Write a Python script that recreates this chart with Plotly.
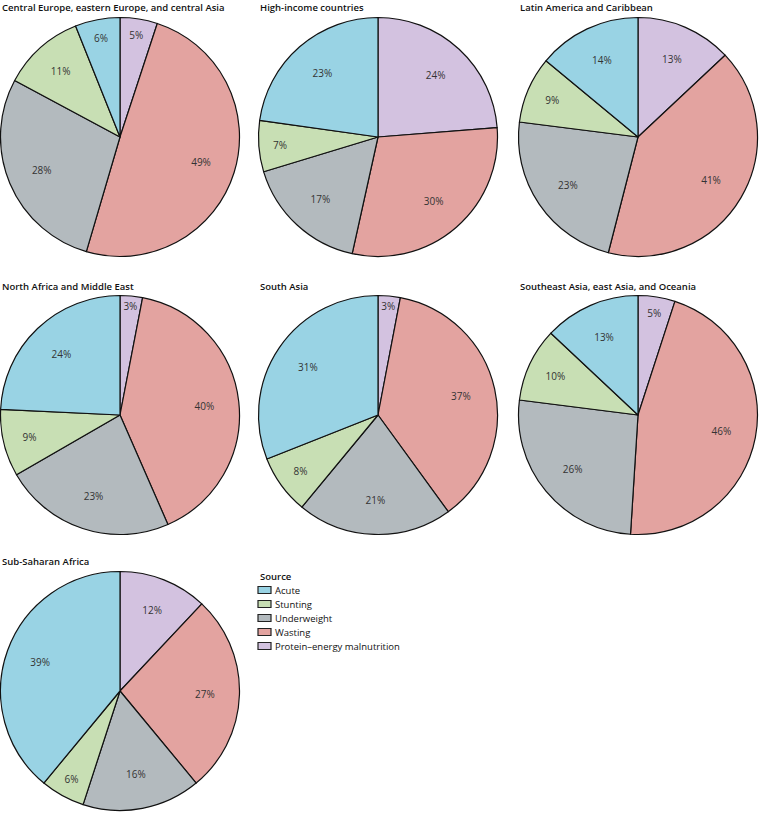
import plotly.graph_objects as go

sources = ["Acute", "Stunting", "Underweight", "Wasting", "Protein–energy malnutrition"]
colors = ["#99d3e4", "#c8dfb4", "#b3babe", "#e3a3a0", "#d3c2e0"]

regions = [
    "Central Europe, eastern Europe, and central Asia",
    "High-income countries",
    "Latin America and Caribbean",
    "North Africa and Middle East",
    "South Asia",
    "Southeast Asia, east Asia, and Oceania",
    "Sub-Saharan Africa",
]
# values in order: Acute, Stunting, Underweight, Wasting, Protein-energy malnutrition
central_europe = [6, 11, 28, 49, 5]
high_income = [23, 7, 17, 30, 24]
latin_america = [14, 9, 23, 41, 13]
north_africa = [24, 9, 23, 40, 3]
south_asia = [31, 8, 21, 37, 3]
southeast_asia = [13, 10, 26, 46, 5]
sub_saharan = [39, 6, 16, 27, 12]
values = [central_europe, high_income, latin_america, north_africa,
          south_asia, southeast_asia, sub_saharan]

W, H = 759, 813
centers_x = [120, 378, 638]
centers_y = [137, 415, 691]
R = 119.5
title_y = [8, 286, 561]
title_x = [0, 258, 518]

FONT = "Open Sans"

fig = go.Figure()
for i, (reg, vals) in enumerate(zip(regions, values)):
    r, c = divmod(i, 3)
    cx, cy = centers_x[c], centers_y[r]
    dom = dict(x=[max(0, (cx - R) / W), min(1, (cx + R) / W)],
               y=[max(0, 1 - (cy + R) / H), min(1, 1 - (cy - R) / H)])
    # filled slices
    fig.add_trace(go.Pie(
        labels=sources[::-1], values=vals[::-1], sort=False, direction="clockwise",
        rotation=0,
        marker=dict(colors=colors[::-1], line=dict(color="#111111", width=1.2)),
        textinfo="none", domain=dom,
        showlegend=False, hoverinfo="label+value",
    ))
    # transparent ring carrying the percentage labels
    fig.add_trace(go.Pie(
        labels=sources[::-1], values=vals[::-1], sort=False, direction="clockwise",
        rotation=0, hole=0.42,
        marker=dict(colors=["rgba(0,0,0,0)"] * 5, line=dict(width=0)),
        texttemplate="%{value}%", textposition="inside",
        insidetextorientation="horizontal",
        textfont=dict(family=FONT, size=10, color="#333333"),
        domain=dom, showlegend=False, hoverinfo="skip",
    ))
    fig.add_annotation(
        text=reg, x=title_x[c] / W, y=1 - title_y[r] / H, xref="paper", yref="paper",
        xanchor="left", yanchor="middle", showarrow=False,
        font=dict(family=FONT, size=9.5, color="#111111", weight=600),
    )

# manual legend
lx, ly0, step = 258, 576, 14
fig.add_annotation(text="Source", x=lx / W, y=1 - ly0 / H, xref="paper", yref="paper",
                   xanchor="left", yanchor="middle", showarrow=False,
                   font=dict(family=FONT, size=9.5, color="#111111", weight=600))
for k, (name, col) in enumerate(zip(sources, colors)):
    yc = ly0 + step * (k + 1)
    fig.add_shape(type="rect", xref="paper", yref="paper",
                  x0=lx / W, x1=(lx + 13) / W,
                  y0=1 - (yc + 3.5) / H, y1=1 - (yc - 3.5) / H,
                  fillcolor=col, line=dict(color="#222222", width=1.2))
    fig.add_annotation(text=name, x=(lx + 15) / W, y=1 - yc / H, xref="paper", yref="paper",
                       xanchor="left", yanchor="middle", showarrow=False,
                       font=dict(family=FONT, size=9.5, color="#111111"))

fig.update_layout(
    width=W, height=H, margin=dict(l=0, r=0, t=0, b=0),
    paper_bgcolor="white", plot_bgcolor="white",
    uniformtext=dict(minsize=10, mode="show"),
    showlegend=False,
)
fig.write_html("out.html", config={"displayModeBar": False},
               post_script="document.body.style.margin='0';")
